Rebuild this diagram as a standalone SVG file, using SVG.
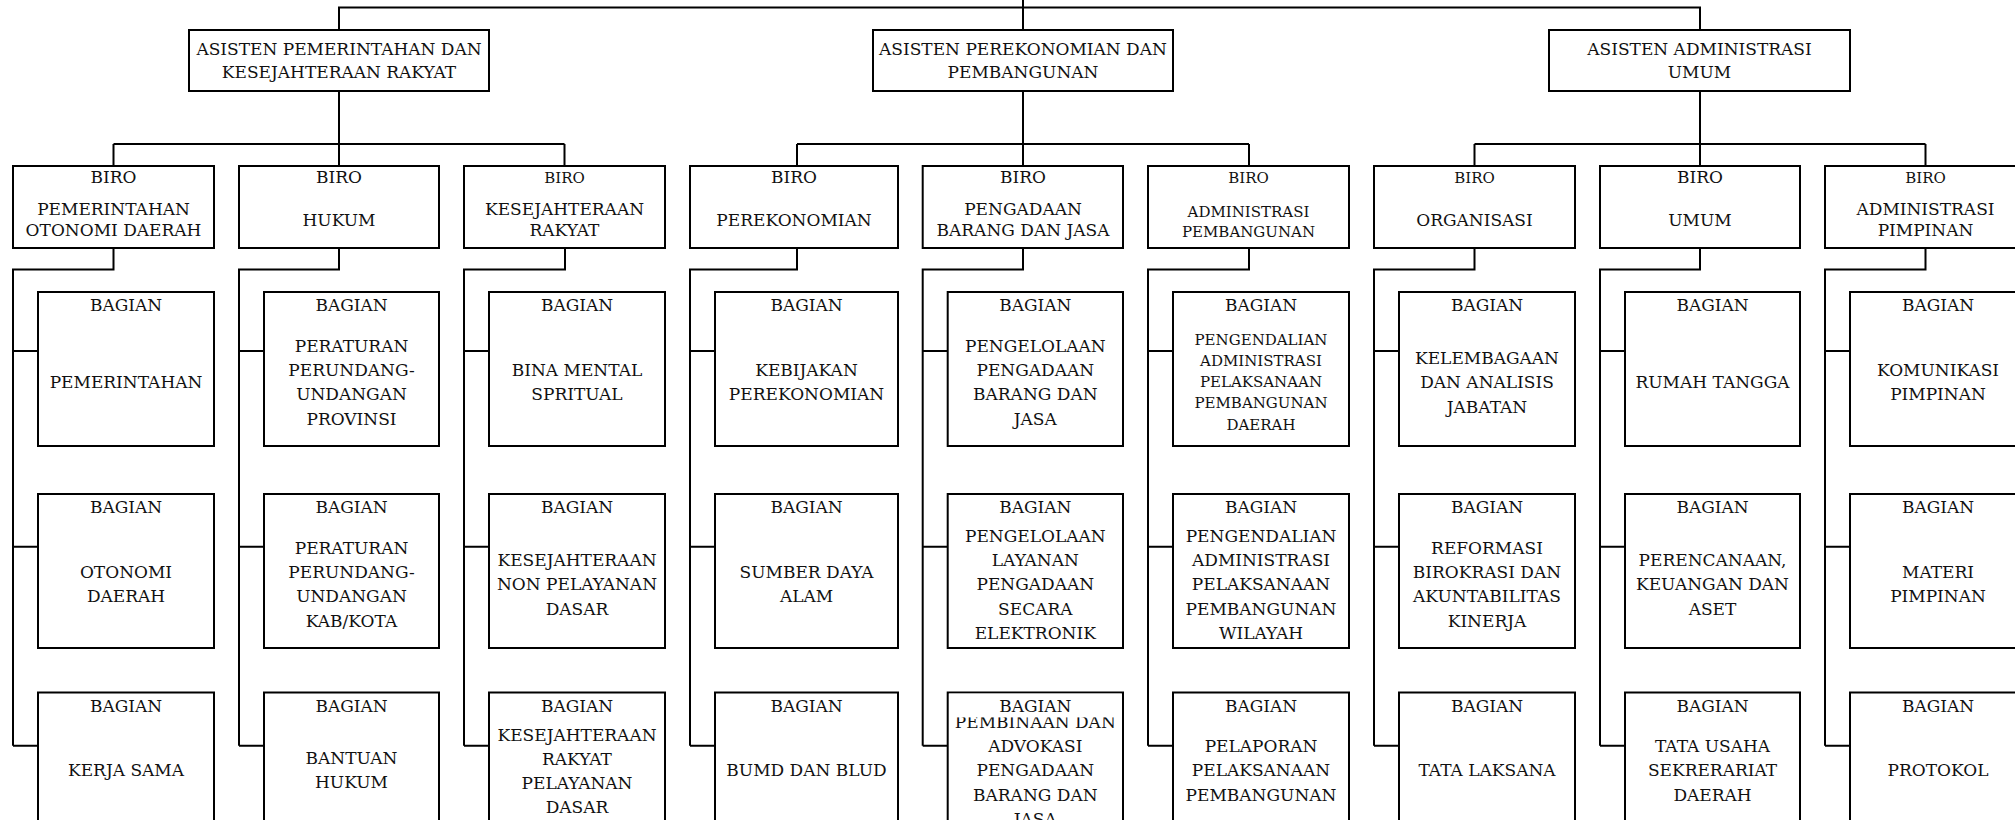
<svg xmlns="http://www.w3.org/2000/svg" width="2015" height="820" viewBox="0 0 2015 820">
<style>
.box{fill:#fff;stroke:#000;stroke-width:2}
.ln{fill:none;stroke:#000;stroke-width:2}
text{font-family:"DejaVu Serif","Liberation Serif",serif;font-size:17px;text-anchor:middle;fill:#111}
.s{font-size:15px}
.mask{fill:#fff;stroke:none}
</style>
<rect width="2015" height="820" fill="#fff"/>
<g id="connectors">
<path class="ln" d="M339,30 V7.5 H1700 V30 M1023,0 V30"/>
<path class="ln" d="M339,91 V144 M113.5,144 H564.5 M113.5,144 V166 M339,144 V166 M564.5,144 V166"/>
<path class="ln" d="M1023,91 V144 M797,144 H1249 M797,144 V166 M1023,144 V166 M1249,144 V166"/>
<path class="ln" d="M1700,91 V144 M1474.5,144 H1925.5 M1474.5,144 V166 M1700,144 V166 M1925.5,144 V166"/>
<path class="ln" d="M113.5,248 V269.6 H13 V745.7 M13,351 H38 M13,546.7 H38 M13,745.7 H38"/>
<path class="ln" d="M339,248 V269.6 H239 V745.7 M239,351 H264 M239,546.7 H264 M239,745.7 H264"/>
<path class="ln" d="M565,248 V269.6 H464 V745.7 M464,351 H489 M464,546.7 H489 M464,745.7 H489"/>
<path class="ln" d="M797,248 V269.6 H690 V745.7 M690,351 H715 M690,546.7 H715 M690,745.7 H715"/>
<path class="ln" d="M1023,248 V269.6 H922.7 V745.7 M922.7,351 H947.7 M922.7,546.7 H947.7 M922.7,745.7 H947.7"/>
<path class="ln" d="M1249,248 V269.6 H1148 V745.7 M1148,351 H1173 M1148,546.7 H1173 M1148,745.7 H1173"/>
<path class="ln" d="M1474.5,248 V269.6 H1374 V745.7 M1374,351 H1399 M1374,546.7 H1399 M1374,745.7 H1399"/>
<path class="ln" d="M1700,248 V269.6 H1600 V745.7 M1600,351 H1625 M1600,546.7 H1625 M1600,745.7 H1625"/>
<path class="ln" d="M1925.5,248 V269.6 H1825 V745.7 M1825,351 H1850 M1825,546.7 H1850 M1825,745.7 H1850"/>
</g>
<g id="asisten-pemerintahan"><rect class="box" x="189" y="30" width="300" height="61"/><text><tspan x="339" y="55">ASISTEN PEMERINTAHAN DAN</tspan><tspan x="339" y="78.3">KESEJAHTERAAN RAKYAT</tspan></text></g>
<g id="asisten-perekonomian"><rect class="box" x="873" y="30" width="300" height="61"/><text><tspan x="1023" y="55">ASISTEN PEREKONOMIAN DAN</tspan><tspan x="1023" y="78.3">PEMBANGUNAN</tspan></text></g>
<g id="asisten-administrasi"><rect class="box" x="1549" y="30" width="301" height="61"/><text><tspan x="1699.5" y="55">ASISTEN ADMINISTRASI</tspan><tspan x="1699.5" y="78.3">UMUM</tspan></text></g>

<g id="biro-pemerintahan"><rect class="box" x="13" y="166" width="201" height="82"/><text x="113.5" y="182.5">BIRO</text><text><tspan x="113.5" y="214.5">PEMERINTAHAN</tspan><tspan x="113.5" y="236">OTONOMI DAERAH</tspan></text></g>
<g id="biro-hukum"><rect class="box" x="239" y="166" width="200" height="82"/><text x="339" y="182.5">BIRO</text><text x="339" y="225.5">HUKUM</text></g>
<g id="biro-kesra"><rect class="box" x="464" y="166" width="201" height="82"/><text class="s" x="564.5" y="182.5">BIRO</text><text><tspan x="564.5" y="214.5">KESEJAHTERAAN</tspan><tspan x="564.5" y="236">RAKYAT</tspan></text></g>
<g id="biro-perekonomian"><rect class="box" x="690" y="166" width="208" height="82"/><text x="794" y="182.5">BIRO</text><text x="794" y="225.5">PEREKONOMIAN</text></g>
<g id="biro-pengadaan"><rect class="box" x="922.7" y="166" width="200.3" height="82"/><text x="1023" y="182.5">BIRO</text><text><tspan x="1023" y="214.5">PENGADAAN</tspan><tspan x="1023" y="236">BARANG DAN JASA</tspan></text></g>
<g id="biro-adm-pembangunan"><rect class="box" x="1148" y="166" width="201" height="82"/><text class="s" x="1248.5" y="182.5">BIRO</text><text class="s"><tspan x="1248.5" y="216.7">ADMINISTRASI</tspan><tspan x="1248.5" y="237.3">PEMBANGUNAN</tspan></text></g>
<g id="biro-organisasi"><rect class="box" x="1374" y="166" width="201" height="82"/><text class="s" x="1474.5" y="182.5">BIRO</text><text x="1474.5" y="225.5">ORGANISASI</text></g>
<g id="biro-umum"><rect class="box" x="1600" y="166" width="200" height="82"/><text x="1700" y="182.5">BIRO</text><text x="1700" y="225.5">UMUM</text></g>
<g id="biro-adm-pimpinan"><rect class="box" x="1825" y="166" width="201" height="82"/><text class="s" x="1925.5" y="182.5">BIRO</text><text><tspan x="1925.5" y="214.5">ADMINISTRASI</tspan><tspan x="1925.5" y="236">PIMPINAN</tspan></text></g>

<!-- column 1 -->
<g id="bagian-pemerintahan"><rect class="box" x="38" y="292" width="176" height="154"/><text x="126" y="311.3">BAGIAN</text><text x="126" y="388.2">PEMERINTAHAN</text></g>
<g id="bagian-otonomi"><rect class="box" x="38" y="494" width="176" height="154"/><text x="126" y="513.3">BAGIAN</text><text><tspan x="126" y="578.05">OTONOMI</tspan><tspan x="126" y="602.35">DAERAH</tspan></text></g>
<g id="bagian-kerjasama"><rect class="box" x="38" y="692.5" width="176" height="154"/><text x="126" y="711.8">BAGIAN</text><text x="126" y="776.2">KERJA SAMA</text></g>
<!-- column 2 -->
<g id="bagian-perprov"><rect class="box" x="264" y="292" width="175" height="154"/><text x="351.5" y="311.3">BAGIAN</text><text><tspan x="351.5" y="351.75">PERATURAN</tspan><tspan x="351.5" y="376.05">PERUNDANG-</tspan><tspan x="351.5" y="400.35">UNDANGAN</tspan><tspan x="351.5" y="424.65">PROVINSI</tspan></text></g>
<g id="bagian-perkab"><rect class="box" x="264" y="494" width="175" height="154"/><text x="351.5" y="513.3">BAGIAN</text><text><tspan x="351.5" y="553.75">PERATURAN</tspan><tspan x="351.5" y="578.05">PERUNDANG-</tspan><tspan x="351.5" y="602.35">UNDANGAN</tspan><tspan x="351.5" y="626.65">KAB/KOTA</tspan></text></g>
<g id="bagian-bantuan-hukum"><rect class="box" x="264" y="692.5" width="175" height="154"/><text x="351.5" y="711.8">BAGIAN</text><text><tspan x="351.5" y="764.05">BANTUAN</tspan><tspan x="351.5" y="788.35">HUKUM</tspan></text></g>
<!-- column 3 -->
<g id="bagian-bina-mental"><rect class="box" x="489" y="292" width="176" height="154"/><text x="577" y="311.3">BAGIAN</text><text><tspan x="577" y="376.05">BINA MENTAL</tspan><tspan x="577" y="400.35">SPRITUAL</tspan></text></g>
<g id="bagian-kesra-non"><rect class="box" x="489" y="494" width="176" height="154"/><text x="577" y="513.3">BAGIAN</text><text><tspan x="577" y="565.9">KESEJAHTERAAN</tspan><tspan x="577" y="590.2">NON PELAYANAN</tspan><tspan x="577" y="614.5">DASAR</tspan></text></g>
<g id="bagian-kesra-dasar"><rect class="box" x="489" y="692.5" width="176" height="154"/><text x="577" y="711.8">BAGIAN</text><text><tspan x="577" y="740.5">KESEJAHTERAAN</tspan><tspan x="577" y="764.8">RAKYAT</tspan><tspan x="577" y="789.1">PELAYANAN</tspan><tspan x="577" y="813.4">DASAR</tspan></text></g>
<!-- column 4 -->
<g id="bagian-kebijakan"><rect class="box" x="715" y="292" width="183" height="154"/><text x="806.5" y="311.3">BAGIAN</text><text><tspan x="806.5" y="376.05">KEBIJAKAN</tspan><tspan x="806.5" y="400.35">PEREKONOMIAN</tspan></text></g>
<g id="bagian-sda"><rect class="box" x="715" y="494" width="183" height="154"/><text x="806.5" y="513.3">BAGIAN</text><text><tspan x="806.5" y="578.05">SUMBER DAYA</tspan><tspan x="806.5" y="602.35">ALAM</tspan></text></g>
<g id="bagian-bumd"><rect class="box" x="715" y="692.5" width="183" height="154"/><text x="806.5" y="711.8">BAGIAN</text><text x="806.5" y="776.2">BUMD DAN BLUD</text></g>
<!-- column 5 -->
<g id="bagian-pengelolaan-pbj"><rect class="box" x="947.7" y="292" width="175.3" height="154"/><text x="1035.3" y="311.3">BAGIAN</text><text><tspan x="1035.3" y="351.75">PENGELOLAAN</tspan><tspan x="1035.3" y="376.05">PENGADAAN</tspan><tspan x="1035.3" y="400.35">BARANG DAN</tspan><tspan x="1035.3" y="424.65">JASA</tspan></text></g>
<g id="bagian-lpse"><rect class="box" x="947.7" y="494" width="175.3" height="154"/><text x="1035.3" y="513.3">BAGIAN</text><text><tspan x="1035.3" y="541.6">PENGELOLAAN</tspan><tspan x="1035.3" y="565.9">LAYANAN</tspan><tspan x="1035.3" y="590.2">PENGADAAN</tspan><tspan x="1035.3" y="614.5">SECARA</tspan><tspan x="1035.3" y="638.8">ELEKTRONIK</tspan></text></g>
<g id="bagian-pembinaan"><rect class="box" x="947.7" y="692.5" width="175.3" height="154"/><text><tspan x="1035.3" y="727.6">PEMBINAAN DAN</tspan><tspan x="1035.3" y="751.9">ADVOKASI</tspan><tspan x="1035.3" y="776.2">PENGADAAN</tspan><tspan x="1035.3" y="800.5">BARANG DAN</tspan><tspan x="1035.3" y="824.8">JASA</tspan></text><rect class="mask" x="949" y="693.6" width="172.6" height="23.8"/><text x="1035.3" y="711.8">BAGIAN</text></g>
<!-- column 6 -->
<g id="bagian-pengendalian-daerah"><rect class="box" x="1173" y="292" width="176" height="154"/><text x="1261" y="311.3">BAGIAN</text><text class="s"><tspan x="1261" y="344.5">PENGENDALIAN</tspan><tspan x="1261" y="365.8">ADMINISTRASI</tspan><tspan x="1261" y="387.1">PELAKSANAAN</tspan><tspan x="1261" y="408.4">PEMBANGUNAN</tspan><tspan x="1261" y="429.7">DAERAH</tspan></text></g>
<g id="bagian-pengendalian-wilayah"><rect class="box" x="1173" y="494" width="176" height="154"/><text x="1261" y="513.3">BAGIAN</text><text><tspan x="1261" y="541.6">PENGENDALIAN</tspan><tspan x="1261" y="565.9">ADMINISTRASI</tspan><tspan x="1261" y="590.2">PELAKSANAAN</tspan><tspan x="1261" y="614.5">PEMBANGUNAN</tspan><tspan x="1261" y="638.8">WILAYAH</tspan></text></g>
<g id="bagian-pelaporan"><rect class="box" x="1173" y="692.5" width="176" height="154"/><text x="1261" y="711.8">BAGIAN</text><text><tspan x="1261" y="751.9">PELAPORAN</tspan><tspan x="1261" y="776.2">PELAKSANAAN</tspan><tspan x="1261" y="800.5">PEMBANGUNAN</tspan></text></g>
<!-- column 7 -->
<g id="bagian-kelembagaan"><rect class="box" x="1399" y="292" width="176" height="154"/><text x="1487" y="311.3">BAGIAN</text><text><tspan x="1487" y="363.9">KELEMBAGAAN</tspan><tspan x="1487" y="388.2">DAN ANALISIS</tspan><tspan x="1487" y="412.5">JABATAN</tspan></text></g>
<g id="bagian-reformasi"><rect class="box" x="1399" y="494" width="176" height="154"/><text x="1487" y="513.3">BAGIAN</text><text><tspan x="1487" y="553.75">REFORMASI</tspan><tspan x="1487" y="578.05">BIROKRASI DAN</tspan><tspan x="1487" y="602.35">AKUNTABILITAS</tspan><tspan x="1487" y="626.65">KINERJA</tspan></text></g>
<g id="bagian-tatalaksana"><rect class="box" x="1399" y="692.5" width="176" height="154"/><text x="1487" y="711.8">BAGIAN</text><text x="1487" y="776.2">TATA LAKSANA</text></g>
<!-- column 8 -->
<g id="bagian-rumah-tangga"><rect class="box" x="1625" y="292" width="175" height="154"/><text x="1712.5" y="311.3">BAGIAN</text><text x="1712.5" y="388.2">RUMAH TANGGA</text></g>
<g id="bagian-perencanaan"><rect class="box" x="1625" y="494" width="175" height="154"/><text x="1712.5" y="513.3">BAGIAN</text><text><tspan x="1712.5" y="565.9">PERENCANAAN,</tspan><tspan x="1712.5" y="590.2">KEUANGAN DAN</tspan><tspan x="1712.5" y="614.5">ASET</tspan></text></g>
<g id="bagian-tata-usaha"><rect class="box" x="1625" y="692.5" width="175" height="154"/><text x="1712.5" y="711.8">BAGIAN</text><text><tspan x="1712.5" y="751.9">TATA USAHA</tspan><tspan x="1712.5" y="776.2">SEKRERARIAT</tspan><tspan x="1712.5" y="800.5">DAERAH</tspan></text></g>
<!-- column 9 -->
<g id="bagian-komunikasi"><rect class="box" x="1850" y="292" width="176" height="154"/><text x="1938" y="311.3">BAGIAN</text><text><tspan x="1938" y="376.05">KOMUNIKASI</tspan><tspan x="1938" y="400.35">PIMPINAN</tspan></text></g>
<g id="bagian-materi"><rect class="box" x="1850" y="494" width="176" height="154"/><text x="1938" y="513.3">BAGIAN</text><text><tspan x="1938" y="578.05">MATERI</tspan><tspan x="1938" y="602.35">PIMPINAN</tspan></text></g>
<g id="bagian-protokol"><rect class="box" x="1850" y="692.5" width="176" height="154"/><text x="1938" y="711.8">BAGIAN</text><text x="1938" y="776.2">PROTOKOL</text></g>
</svg>
